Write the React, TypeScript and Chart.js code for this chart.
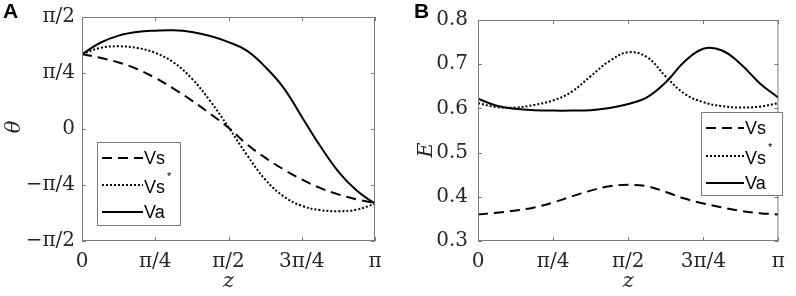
import React, { useEffect, useRef } from "react";
import { Chart, registerables } from "chart.js";

Chart.register(...registerables);

// z positions, in units of π
const zGrid = [0, 0.0625, 0.125, 0.1875, 0.25, 0.3125, 0.375, 0.4375, 0.5, 0.5625, 0.625, 0.6875, 0.75, 0.8125, 0.875, 0.9375, 1];

// Panel A: θ in units of π
const thetaVs = [0.334, 0.318, 0.297, 0.268, 0.228, 0.18, 0.127, 0.068, 0.006, -0.068, -0.128, -0.18, -0.225, -0.263, -0.292, -0.314, -0.331];
const thetaVsStar = [0.334, 0.362, 0.369, 0.362, 0.34, 0.297, 0.225, 0.125, 0.008, -0.115, -0.225, -0.3, -0.343, -0.362, -0.367, -0.36, -0.334];
const thetaVa = [0.334, 0.385, 0.417, 0.433, 0.439, 0.441, 0.433, 0.415, 0.388, 0.35, 0.278, 0.185, 0.055, -0.075, -0.19, -0.275, -0.334];

// Panel B: E
const eVs = [0.36, 0.364, 0.369, 0.376, 0.387, 0.401, 0.414, 0.424, 0.427, 0.424, 0.411, 0.396, 0.385, 0.376, 0.368, 0.363, 0.36];
const eVsStar = [0.612, 0.603, 0.602, 0.608, 0.618, 0.638, 0.673, 0.707, 0.727, 0.716, 0.672, 0.633, 0.614, 0.605, 0.602, 0.604, 0.612];
const eVa = [0.622, 0.606, 0.599, 0.596, 0.595, 0.595, 0.596, 0.601, 0.61, 0.625, 0.659, 0.706, 0.735, 0.731, 0.7, 0.657, 0.624];

// ticks
const zTickValues = [0, 0.25, 0.5, 0.75, 1];
const zTickLabels = ["0", "π/4", "π/2", "3π/4", "π"];
const thetaTickValues = [-0.5, -0.25, 0, 0.25, 0.5];
const thetaTickLabels = ["−π/2", "−π/4", "0", "π/4", "π/2"];
const eTickValues = [0.3, 0.4, 0.5, 0.6, 0.7, 0.8];
const eTickLabels = ["0.3", "0.4", "0.5", "0.6", "0.7", "0.8"];

const seriesNames = ["Vs", "Vs", "Va"];
const seriesSup = ["", "*", ""];
const seriesDash: number[][] = [[10, 6], [2, 2], []];

const FRAME = "#7a7a7a";
const TEXT = "#262626";
const SERIF = "'DejaVu Serif', 'Liberation Serif', serif";
const SANS = "'Liberation Sans', Arial, sans-serif";

type PanelSpec = {
  letter: string;
  letterX: number;
  yTitle: string;
  yTitleX: number;
  yTitleY: number;
  series: number[][];
  yMin: number;
  yMax: number;
  yTickValues: number[];
  yTickLabels: string[];
  yAxisWidth: number;
  yLabelPad: number;
  padRight: number;
  legend: { x: number; y: number; w: number; h: number; rows: number[]; lineX0: number; lineX1: number; textX: number };
};

function Panel({ spec, left }: { spec: PanelSpec; left: number }) {
  const ref = useRef<HTMLCanvasElement | null>(null);
  useEffect(() => {
    if (!ref.current) return;
    const decor = {
      id: "decor",
      afterDraw(chart: any) {
        const ctx = chart.ctx as CanvasRenderingContext2D;
        const a = chart.chartArea;
        const xs = chart.scales.x;
        const ys = chart.scales.y;
        ctx.save();
        // frame
        ctx.strokeStyle = FRAME;
        ctx.lineWidth = 1;
        ctx.setLineDash([]);
        ctx.strokeRect(a.left + 0.5, a.top + 0.5, a.right - a.left - 1, a.bottom - a.top - 1);
        // inward ticks
        ctx.beginPath();
        for (const v of zTickValues) {
          const px = Math.round(xs.getPixelForValue(v)) + 0.5;
          ctx.moveTo(px, a.bottom);
          ctx.lineTo(px, a.bottom - 4);
          ctx.moveTo(px, a.top);
          ctx.lineTo(px, a.top + 4);
        }
        for (const v of spec.yTickValues) {
          const py = Math.round(ys.getPixelForValue(v)) + 0.5;
          ctx.moveTo(a.left, py);
          ctx.lineTo(a.left + 4, py);
          ctx.moveTo(a.right, py);
          ctx.lineTo(a.right - 4, py);
        }
        ctx.stroke();

        // legend
        const L = spec.legend;
        ctx.fillStyle = "#ffffff";
        ctx.fillRect(L.x, L.y, L.w, L.h);
        ctx.strokeStyle = FRAME;
        ctx.strokeRect(L.x + 0.5, L.y + 0.5, L.w, L.h);
        for (let i = 0; i < seriesNames.length; i++) {
          const ry = L.rows[i];
          ctx.strokeStyle = "#000";
          ctx.lineWidth = 2;
          ctx.setLineDash(seriesDash[i]);
          ctx.beginPath();
          ctx.moveTo(L.lineX0, ry);
          ctx.lineTo(L.lineX1, ry);
          ctx.stroke();
          ctx.setLineDash([]);
          ctx.fillStyle = "#000";
          ctx.font = `18px ${SANS}`;
          ctx.textAlign = "left";
          ctx.textBaseline = "middle";
          const ty = seriesSup[i] ? ry + 3 : ry + 1;
          ctx.fillText(seriesNames[i], L.textX, ty);
          if (seriesSup[i]) {
            const w = ctx.measureText(seriesNames[i]).width;
            ctx.font = `11px ${SANS}`;
            ctx.fillText(seriesSup[i], L.textX + w + 2, ry - 8);
          }
        }

        // axis titles
        ctx.fillStyle = TEXT;
        ctx.font = `italic 21px ${SERIF}`;
        ctx.textAlign = "center";
        ctx.textBaseline = "middle";
        ctx.fillText("z", (a.left + a.right) / 2, 282);
        ctx.save();
        ctx.translate(spec.yTitleX, spec.yTitleY);
        ctx.rotate(-Math.PI / 2);
        ctx.fillText(spec.yTitle, 0, 0);
        ctx.restore();

        // panel letter
        ctx.fillStyle = "#000";
        ctx.font = `bold 21px ${SANS}`;
        ctx.textAlign = "left";
        ctx.textBaseline = "alphabetic";
        ctx.fillText(spec.letter, spec.letterX, 18);
        ctx.restore();
      },
    };

    const chart = new Chart(ref.current, {
      type: "line",
      data: {
        datasets: spec.series.map((vals, i) => ({
          label: seriesNames[i] + seriesSup[i],
          data: zGrid.map((z, k) => ({ x: z, y: vals[k] })),
          borderColor: "#000",
          borderWidth: 2,
          borderDash: seriesDash[i],
          pointRadius: 0,
          tension: 0.4,
          fill: false,
        })),
      },
      options: {
        animation: false,
        responsive: false,
        events: [],
        layout: { padding: { left: 0, right: spec.padRight, top: 12, bottom: 0 } },
        plugins: { legend: { display: false }, tooltip: { enabled: false } },
        scales: {
          x: {
            type: "linear",
            min: 0,
            max: 1,
            afterBuildTicks: (s: any) => {
              s.ticks = zTickValues.map((v) => ({ value: v }));
            },
            afterFit: (s: any) => {
              s.height = 55;
            },
            grid: { display: false, drawTicks: false },
            border: { display: false },
            ticks: {
              autoSkip: false,
              maxRotation: 0,
              padding: 11,
              color: TEXT,
              font: { family: SERIF, size: 20, lineHeight: 1 },
              callback: (_v: any, i: number) => zTickLabels[i],
            },
          },
          y: {
            type: "linear",
            min: spec.yMin,
            max: spec.yMax,
            afterBuildTicks: (s: any) => {
              s.ticks = spec.yTickValues.map((v) => ({ value: v }));
            },
            afterFit: (s: any) => {
              s.width = spec.yAxisWidth;
            },
            grid: { display: false, drawTicks: false },
            border: { display: false },
            ticks: {
              autoSkip: false,
              padding: spec.yLabelPad,
              color: TEXT,
              font: { family: SERIF, size: 20, lineHeight: 1 },
              callback: (_v: any, i: number) => spec.yTickLabels[i],
            },
          },
        },
      },
      plugins: [decor],
    } as any);
    return () => chart.destroy();
  }, [spec]);
  return (
    <canvas
      ref={ref}
      width={398}
      height={296}
      style={{ position: "absolute", left, top: 0, width: 398, height: 296 }}
    />
  );
}

const specA: PanelSpec = {
  letter: "A",
  letterX: 3,
  yTitle: "θ",
  yTitleX: 15,
  yTitleY: 127,
  series: [thetaVs, thetaVsStar, thetaVa],
  yMin: -0.5,
  yMax: 0.5,
  yTickValues: thetaTickValues,
  yTickLabels: thetaTickLabels,
  yAxisWidth: 82,
  yLabelPad: 7,
  padRight: 23,
  legend: { x: 97, y: 142, w: 83, h: 83, rows: [158, 185, 212], lineX0: 102, lineX1: 143, textX: 144 },
};

const specB: PanelSpec = {
  letter: "B",
  letterX: 16,
  yTitle: "E",
  yTitleX: 29,
  yTitleY: 150,
  series: [eVs, eVsStar, eVa],
  yMin: 0.3,
  yMax: 0.8,
  yTickValues: eTickValues,
  yTickLabels: eTickLabels,
  yAxisWidth: 80,
  yLabelPad: 10,
  padRight: 9,
  legend: { x: 303, y: 112, w: 81, h: 83, rows: [128, 156, 183], lineX0: 308, lineX1: 346, textX: 347 },
};

export default function App() {
  return (
    <div style={{ position: "fixed", left: 0, top: 0, width: 796, height: 296, background: "#fff" }}>
      <Panel spec={specA} left={0} />
      <Panel spec={specB} left={398} />
    </div>
  );
}
